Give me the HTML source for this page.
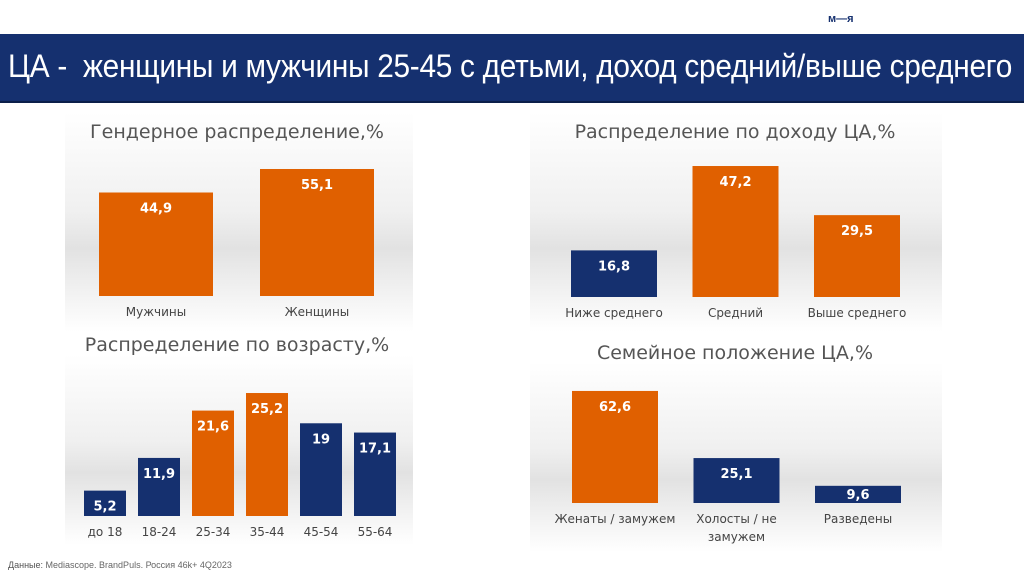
<!DOCTYPE html>
<html><head><meta charset="utf-8">
<style>
body{margin:0;width:1024px;height:574px;background:#fff;position:relative;overflow:hidden;font-family:"Liberation Sans","Noto Sans CJK SC",sans-serif}
.hdr{position:absolute;left:0;top:34px;width:1024px;height:67px;background:#15306f;border-bottom:2px solid #0c1f4a}
.hdr span{position:absolute;left:8px;top:14px;color:#fff;font-size:32px;letter-spacing:-0.3px;white-space:nowrap;transform-origin:0 0}
.logo{position:absolute;left:828px;top:13px;font-size:11px;font-weight:bold;color:#15306f}
.foot{position:absolute;left:8px;top:560px;font-size:9px;color:#666}
.foot b{font-weight:normal;color:#555}
svg{position:absolute;left:0;top:0}
.panel{position:absolute;background:linear-gradient(#fff 0%,#f0f0f0 45%,#e2e2e2 62%,#f4f4f4 85%,#fff 100%)}
</style></head><body>
<div class="panel" style="left:65px;top:112px;width:348px;height:220px"></div>
<div class="panel" style="left:65px;top:355px;width:348px;height:190px"></div>
<div class="panel" style="left:530px;top:112px;width:412px;height:220px"></div>
<div class="panel" style="left:530px;top:362px;width:412px;height:190px"></div>
<div class="logo">м—я</div>
<div class="hdr"><span id="pt">ЦА -&nbsp; женщины и мужчины 25-45 с детьми, доход средний/выше среднего</span></div>
<svg id="c" width="1024" height="574"></svg>
<div class="foot"><b>Данные:</b> Mediascope. BrandPuls. Россия 46k+ 4Q2023</div>
<script>
const genderCats=["Мужчины","Женщины"];
const genderVals=[44.9,55.1];
const genderColors=["o","o"];
const incomeCats=["Ниже среднего","Средний","Выше среднего"];
const incomeVals=[16.8,47.2,29.5];
const incomeColors=["n","o","o"];
const ageCats=["до 18","18-24","25-34","35-44","45-54","55-64"];
const ageVals=[5.2,11.9,21.6,25.2,19,17.1];
const ageColors=["n","n","o","o","n","n"];
const famCats=[["Женаты / замужем"],["Холосты / не","замужем"],["Разведены"]];
const famVals=[62.6,25.1,9.6];
const famColors=["o","n","n"];
const pt=document.getElementById('pt');
pt.style.transform='scaleX('+(1004/pt.getBoundingClientRect().width)+')';
const svg=document.getElementById('c');const NS='http://www.w3.org/2000/svg';
const COL={o:"#e06000",n:"#15306f"};
function el(t,a,txt){const e=document.createElementNS(NS,t);for(const k in a)e.setAttribute(k,a[k]);if(txt!=null)e.textContent=txt;svg.appendChild(e);return e;}
function chart(o){
  const t=el('text',{x:o.cx,y:o.ty,'text-anchor':'middle','font-size':19,fill:'#555','font-family':'"DejaVu Sans",sans-serif'},o.title);
  
  
  const y=v=>o.base-v*o.k;
  o.vals.forEach((v,i)=>{
    const x=o.x0+i*o.step;
    const r=el('rect',{x:x,y:y(v),width:o.w,height:o.base-y(v),fill:COL[o.cols[i]]});
    
    
    const lt=Math.min(y(v)+20,o.base-4);
    const l=el('text',{x:x+o.w/2,y:lt,'text-anchor':'middle','font-size':13,'font-weight':'bold',fill:'#fff','font-family':'"DejaVu Sans",sans-serif'},String(v).replace('.',','));
    
    
    const lines=Array.isArray(o.cats[i])?o.cats[i]:[o.cats[i]];
    lines.forEach((s,j)=>{
      const c=el('text',{x:x+o.w/2,y:o.base+20+j*18,'text-anchor':'middle','font-size':12,fill:'#444','font-family':'"DejaVu Sans",sans-serif'},s);
      
      
    });
  });
}
chart({name:'gender',title:'Гендерное распределение,%',cx:237,ty:138,cats:genderCats,vals:genderVals,cols:genderColors,x0:99,step:161,w:114,base:296,k:2.305});
chart({name:'income',title:'Распределение по доходу ЦА,%',cx:735,ty:138,cats:incomeCats,vals:incomeVals,cols:incomeColors,x0:571,step:121.5,w:86,base:297,k:2.775});
chart({name:'age',title:'Распределение по возрасту,%',cx:237,ty:351,cats:ageCats,vals:ageVals,cols:ageColors,x0:84,step:54,w:42,base:516,k:4.88});
chart({name:'family',title:'Семейное положение ЦА,%',cx:735,ty:359,cats:famCats,vals:famVals,cols:famColors,x0:572,step:121.5,w:86,base:503,k:1.79});
</script>
</body></html>
